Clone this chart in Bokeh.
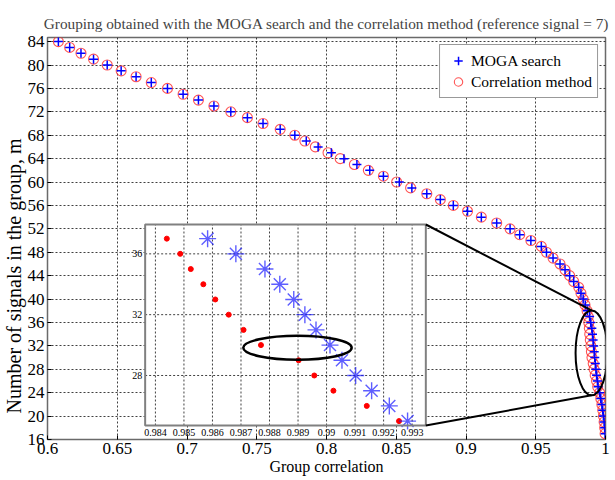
import numpy as np
from bokeh.plotting import figure
from bokeh.models import Range1d, FixedTicker, Legend, LegendItem, Title
from bokeh.core.properties import value
from bokeh.embed import file_html
from bokeh.resources import INLINE

FONT = "Liberation Serif"

# ---------------- data ----------------
TITLE = "Grouping obtained with the MOGA search and the correlation method (reference signal = 7)"
X_LABEL = "Group correlation"
Y_LABEL = "Number of signals in the group, m"

x_ticks = [0.6, 0.65, 0.7, 0.75, 0.8, 0.85, 0.9, 0.95, 1.0]
x_tick_labels = ["0.6", "0.65", "0.7", "0.75", "0.8", "0.85", "0.9", "0.95", "1"]
y_ticks = [16, 20, 24, 28, 32, 36, 40, 44, 48, 52, 56, 60, 64, 68, 72, 76, 80, 84]

# number of signals in the group (main chart)
m_values = list(range(84, 16, -1))

# group correlation, MOGA search (blue +)
moga_corr = [
    0.6078, 0.6159, 0.6240, 0.6330, 0.6428, 0.6528, 0.6635, 0.6744, 0.6860, 0.6972,
    0.7082, 0.7193, 0.7314, 0.7433, 0.7545, 0.7668, 0.7773, 0.7855, 0.7940, 0.8035,
    0.8125, 0.8218, 0.8310, 0.8408, 0.8522, 0.8612, 0.8719, 0.8816, 0.8909, 0.9011,
    0.9110, 0.9220, 0.9316, 0.9385, 0.9465, 0.9540, 0.9577, 0.9624, 0.9674, 0.9710,
    0.9743, 0.9772, 0.9808, 0.9824, 0.9840, 0.9855, 0.9870, 0.9886, 0.9894, 0.9902,
    0.9907, 0.9911, 0.9915, 0.9919, 0.9923, 0.9927, 0.9931, 0.9936, 0.9942, 0.9947,
    0.9958, 0.9966, 0.9974, 0.9980, 0.9985, 0.9990, 0.9994, 0.9997,
]

# group correlation, correlation method (red o)
corr_method_corr = [
    0.6078, 0.6159, 0.6240, 0.6330, 0.6428, 0.6528, 0.6635, 0.6744, 0.6860, 0.6972,
    0.7082, 0.7193, 0.7314, 0.7433, 0.7545, 0.7668, 0.7773, 0.7845, 0.7920, 0.8011,
    0.8098, 0.8200, 0.8300, 0.8408, 0.8503, 0.8603, 0.8719, 0.8816, 0.8909, 0.9011,
    0.9110, 0.9220, 0.9316, 0.9385, 0.9465, 0.9540, 0.9577, 0.9624, 0.9674, 0.9710,
    0.9743, 0.9772, 0.9808, 0.9824, 0.9840, 0.9853, 0.9868, 0.9876, 0.9880, 0.9884,
    0.9887, 0.9891, 0.9895, 0.9899, 0.9903, 0.9912, 0.9918, 0.9926, 0.9936, 0.9944,
    0.9958, 0.9966, 0.9974, 0.9980, 0.9985, 0.9990, 0.9994, 0.9997,
]

# zoomed inset
inset_m = [37, 36, 35, 34, 33, 32, 31, 30, 29, 28, 27, 26, 25]
inset_moga = [0.98583, 0.98682, 0.98784, 0.98836, 0.98885, 0.98924, 0.98963,
              0.99012, 0.99054, 0.99102, 0.99158, 0.99220, 0.99284]
inset_corr = [0.98440, 0.98487, 0.98524, 0.98568, 0.98610, 0.98657, 0.98709,
              0.98770, 0.98902, 0.98957, 0.99024, 0.99141, 0.99254]
inset_x_ticks = [0.984, 0.985, 0.986, 0.987, 0.988, 0.989, 0.990, 0.991, 0.992, 0.993]
inset_x_tick_labels = ["0.984", "0.985", "0.986", "0.987", "0.988", "0.989", "0.99",
                       "0.991", "0.992", "0.993"]
inset_y_ticks = [28, 32, 36]
inset_y_tick_labels = ["28", "32", "36"]

# ---------------- layout constants ----------------
X0, X1 = 0.6, 1.0
Y0, Y1 = 16, 84.7
IX0, IX1 = 0.98364, 0.99348           # inset window (data)
IY0, IY1 = 24.71, 37.93
FL, FR, FB, FT = 0.175, 0.678, 0.0348, 0.5348   # inset place in frame (fractions)

span_x = (IX1 - IX0) / (FR - FL)
span_y = (IY1 - IY0) / (FT - FB)
inset_xr = Range1d(IX0 - FL * span_x, IX0 - FL * span_x + span_x)
inset_yr = Range1d(IY0 - FB * span_y, IY0 - FB * span_y + span_y)

p = figure(width=615, height=480,
           x_range=Range1d(X0, X1), y_range=Range1d(Y0, Y1),
           output_backend="svg", toolbar_location=None,
           min_border_left=45, min_border_right=10, min_border_top=37, min_border_bottom=41)
p.extra_x_ranges = {"inset": inset_xr}
p.extra_y_ranges = {"inset": inset_yr}

p.title.text = TITLE
p.title.align = "center"
p.title.text_font = FONT
p.title.text_font_size = "15.3px"
p.title.text_font_style = "normal"
p.title.standoff = 12

p.outline_line_color = "#6a6a6a"
p.outline_line_width = 1.5

for ax in (p.xaxis[0], p.yaxis[0]):
    ax.axis_line_color = None
    ax.major_tick_in = 4
    ax.major_tick_out = 0
    ax.minor_tick_in = 0
    ax.minor_tick_out = 0
    ax.major_tick_line_color = "black"
    ax.major_label_text_font = FONT
    ax.major_label_text_font_size = "17px"
    ax.major_label_text_color = "black"
    ax.axis_label_text_font = FONT
    ax.axis_label_text_font_style = "normal"
    ax.axis_label_text_color = "black"

p.xaxis.ticker = FixedTicker(ticks=x_ticks)
p.xaxis.major_label_overrides = {t: s for t, s in zip(x_ticks, x_tick_labels)}
p.yaxis.ticker = FixedTicker(ticks=y_ticks)
p.xaxis.major_label_standoff = 3
p.yaxis.major_label_standoff = 3
p.xaxis.axis_label = X_LABEL
p.xaxis.axis_label_text_font_size = "16px"
p.xaxis.axis_label_standoff = 1

# y-axis label as a side title so that it can sit lower, as in the reference
ylab = Title(text=Y_LABEL, align="left", offset=26, standoff=0,
             text_font=FONT, text_font_size="20px", text_font_style="normal",
             text_color="black")
p.add_layout(ylab, "left")

p.xgrid.ticker = FixedTicker(ticks=x_ticks)
p.ygrid.ticker = FixedTicker(ticks=y_ticks)
for g in (p.xgrid[0], p.ygrid[0]):
    g.grid_line_color = "black"
    g.grid_line_alpha = 0.75
    g.grid_line_dash = "2 2"
    g.grid_line_width = 1

# main series
red_r = p.scatter(corr_method_corr, m_values, marker="circle", size=10,
                  fill_color=None, line_color="#ff2a2a", line_width=1.1, line_alpha=0.8)
blue_r = p.scatter(moga_corr, m_values, marker="cross", size=9,
                   line_color="#0000ff", line_width=1.5)

# inset background, grid, data, frame
ik = dict(x_range_name="inset", y_range_name="inset")
p.quad(left=[IX0], right=[IX1], bottom=[IY0], top=[IY1], fill_color="white",
       line_color=None, **ik)
p.segment(x0=inset_x_ticks, y0=[IY0] * len(inset_x_ticks), x1=inset_x_ticks,
          y1=[IY1] * len(inset_x_ticks), line_color="black", line_alpha=0.75,
          line_dash="2 2", line_width=1, **ik)
p.segment(x0=[IX0] * len(inset_y_ticks), y0=inset_y_ticks, x1=[IX1] * len(inset_y_ticks),
          y1=inset_y_ticks, line_color="black", line_alpha=0.75,
          line_dash="2 2", line_width=1, **ik)
p.scatter(inset_corr, inset_m, marker="circle", size=5, fill_color="#ff0000",
          line_color="#ff0000", **ik)
p.scatter(inset_moga, inset_m, marker="asterisk", size=17, line_color="#1a1aff",
          line_width=1.4, line_alpha=0.7, **ik)
p.quad(left=[IX0], right=[IX1], bottom=[IY0], top=[IY1], fill_color=None,
       line_color="#808080", line_width=2, **ik)
p.text(x=inset_x_ticks, y=[IY0] * len(inset_x_ticks), text=inset_x_tick_labels,
       text_align="center", text_baseline="top", y_offset=3,
       text_font=value(FONT), text_font_size="10px", text_color="black", **ik)
p.text(x=[IX0] * len(inset_y_ticks), y=inset_y_ticks, text=inset_y_tick_labels,
       text_align="right", text_baseline="middle", x_offset=-3,
       text_font=value(FONT), text_font_size="10px", text_color="black", **ik)
p.ellipse(x=[0.98898], y=[29.83], width=[0.0038], height=[1.58], fill_color=None,
          line_color="black", line_width=2.5, **ik)

# ellipse in main plot and connection lines
ECX, ECY, EW, EH = 0.9900, 30.8, 0.0229, 14.5
p.ellipse(x=[ECX], y=[ECY], width=[EW], height=[EH], fill_color=None,
          line_color="black", line_width=2)
cx = X0 + FR * (X1 - X0)
cy_top = Y0 + FT * (Y1 - Y0)
cy_bot = Y0 + FB * (Y1 - Y0)
p.segment(x0=[cx, cx], y0=[cy_top, cy_bot], x1=[ECX, ECX],
          y1=[ECY + EH / 2, ECY - EH / 2], line_color="black", line_width=2)

legend = Legend(items=[LegendItem(label="MOGA search", renderers=[blue_r]),
                       LegendItem(label="Correlation method", renderers=[red_r])],
                location="top_right")
legend.label_text_font = FONT
legend.label_text_font_size = "15.5px"
legend.label_text_color = "black"
legend.border_line_color = "#333333"
legend.border_line_width = 1
legend.background_fill_alpha = 1
legend.margin = 7
legend.padding = 5
legend.spacing = 0
legend.glyph_width = 26
legend.glyph_height = 21
legend.label_height = 21
legend.label_standoff = 0
p.add_layout(legend, "center")

open("out.html", "w").write(file_html(p, INLINE))
